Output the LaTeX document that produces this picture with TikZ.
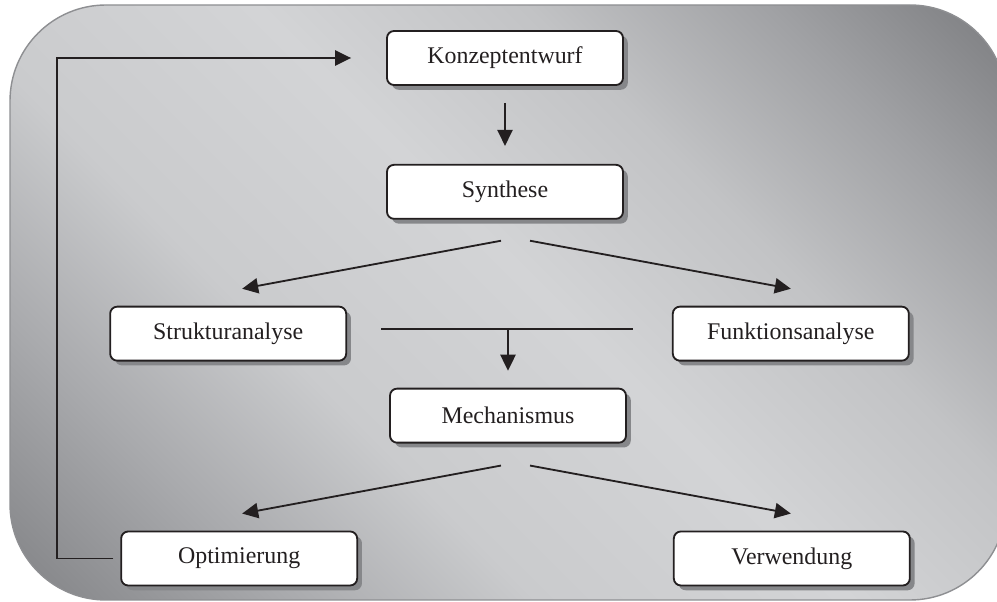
\documentclass[tikz,border=0pt]{standalone}
\usepackage{fontspec}
\setmainfont{Liberation Serif}
\usepackage{xcolor}
\usepackage{tikz}
\usetikzlibrary{
    positioning,
    arrows.meta,
    shadows,
    calc
}
\definecolor{inkblack}{HTML}{231F20}
\definecolor{panelrim}{HTML}{8E8F92}
\definecolor{shadowgray}{HTML}{86878A}
\definecolor{pnlA}{HTML}{808184}
\definecolor{pnlB}{HTML}{898A8D}
\definecolor{pnlC}{HTML}{A9AAAD}
\definecolor{pnlD}{HTML}{CACBCD}
\definecolor{pnlE}{HTML}{D3D4D6}
\definecolor{pnlF}{HTML}{C2C3C5}
\definecolor{pnlG}{HTML}{A0A1A4}
\definecolor{pnlH}{HTML}{7D7E81}
\definecolor{pnlI}{HTML}{75767A}
\pgfdeclareverticalshading{panelshade}{100bp}{
    color(0bp)=(pnlA); color(17bp)=(pnlB); color(27bp)=(pnlC);
    color(38bp)=(pnlD); color(52bp)=(pnlE); color(64bp)=(pnlF);
    color(75bp)=(pnlG); color(85bp)=(pnlH); color(100bp)=(pnlI)
}
\tikzset{
    stepbox/.style={
        rectangle, draw=inkblack, line width=1.3pt, fill=white,
        rounded corners=5pt,
        minimum width=5.9cm, minimum height=1.35cm,
        align=center, text=inkblack,
        font=\fontsize{17}{20}\selectfont,
        drop shadow={shadow xshift=0.12cm, shadow yshift=-0.12cm,
            fill=shadowgray, opacity=1}
    },
    arrow/.style={
        -{Triangle[length=0.4cm, width=0.38cm]}, line width=1.3pt, draw=inkblack
    },
    plainline/.style={
        line width=1.3pt, draw=inkblack
    },
    panel/.style={
        draw=panelrim, line width=1pt, rounded corners=2.4cm,
        shading=panelshade, shading angle=-45
    }
}
\begin{document}
\begin{tikzpicture}
    \useasboundingbox (0,0) rectangle (24.925,-15.05);
    \path[panel] (0.25,-0.125) rectangle (25.15,-15.0);

    \node[stepbox] (konzept) at (12.625,-1.45) {Konzeptentwurf};
    \node[stepbox, below=1.95cm of konzept] (synthese) {Synthese};
    \node[stepbox, below left=2.15cm and 0.975cm of synthese] (struktur) {Strukturanalyse};
    \node[stepbox, below right=2.15cm and 1.2cm of synthese] (funktion) {Funktionsanalyse};
    \node[stepbox, below=4.2cm of synthese, xshift=0.075cm] (mech) {Mechanismus};
    \node[stepbox, below left=2.175cm and 0.775cm of mech] (optim) {Optimierung};
    \node[stepbox, below right=2.175cm and 1.15cm of mech] (verw) {Verwendung};

    \draw[arrow, shorten <=0.425cm, shorten >=0.45cm] (konzept) -- (synthese);
    \draw[arrow] ([shift={(-0.1,-0.525)}]synthese.south) -- ([shift={(0.35,0.425)}]struktur.north);
    \draw[arrow] ([shift={(0.625,-0.525)}]synthese.south) -- ([shift={(0,0.425)}]funktion.north);
    \draw[plainline] ([shift={(0.85,0.125)}]struktur.east) -- ([shift={(-0.975,0.125)}]funktion.west);
    \draw[arrow, shorten >=0.425cm] ($(struktur.east -| mech.north)+(0,0.125)$) -- (mech.north);
    \draw[arrow] ([shift={(-0.175,-0.55)}]mech.south) -- ([shift={(0.075,0.425)}]optim.north);
    \draw[arrow] ([shift={(0.55,-0.55)}]mech.south) -- ([shift={(-0.025,0.425)}]verw.north);
    \draw[arrow, shorten <=0.175cm, shorten >=0.875cm] (optim.west) -- ++(-1.575,0) |- (konzept.west);
\end{tikzpicture}
\end{document}
